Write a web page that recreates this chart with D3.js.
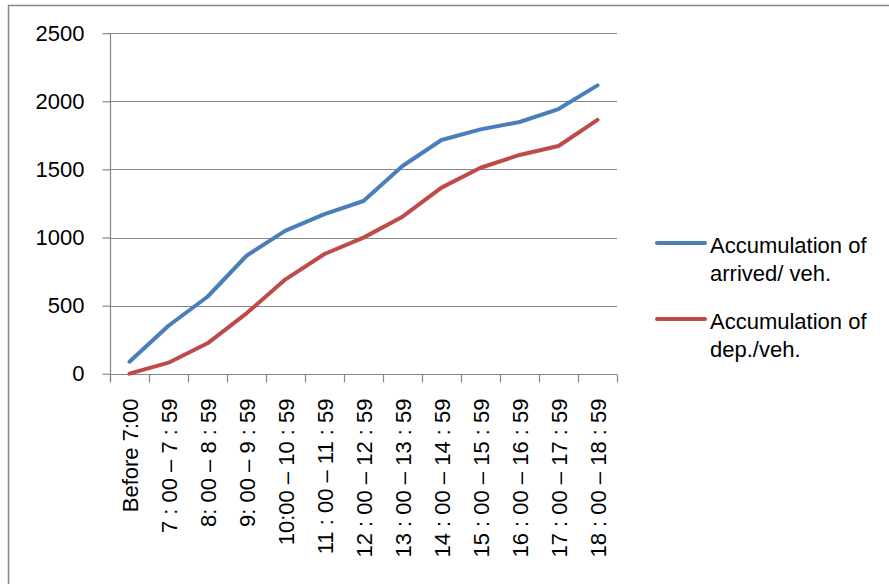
<!DOCTYPE html>
<html>
<head>
<meta charset="utf-8">
<script src="https://cdn.jsdelivr.net/npm/d3@7"></script>
<style>
  html, body { margin: 0; padding: 0; background: #fff; }
  svg { display: block; }
  text { font-family: "Liberation Sans", Arial, sans-serif; fill: #000; }
</style>
</head>
<body>
<svg id="chart" width="889" height="584"></svg>
<script>
// Time periods along the x axis
const periods = [
  "Before 7:00",
  "7 : 00 – 7 : 59",
  "8: 00 – 8 : 59",
  "9: 00 – 9 : 59",
  "10:00 – 10 : 59",
  "11 : 00 – 11 : 59",
  "12 : 00 – 12 : 59",
  "13 : 00 – 13 : 59",
  "14 : 00 – 14 : 59",
  "15 : 00 – 15 : 59",
  "16 : 00 – 16 : 59",
  "17 : 00 – 17 : 59",
  "18 : 00 – 18 : 59"
];

// Cumulative vehicle counts
const arrived = [88, 352, 565, 866, 1050, 1172, 1268, 1525, 1716, 1794, 1848, 1943, 2117];
const departed = [0, 81, 223, 443, 693, 879, 999, 1153, 1366, 1512, 1606, 1672, 1863];

const yTicks = [0, 500, 1000, 1500, 2000, 2500];

const seriesNames = ["Accumulation of\narrived/ veh.", "Accumulation of\ndep./veh."];
const seriesColors = ["#4A7EBB", "#BE4B48"];

const svg = d3.select("#chart");

// outer chart frame
svg.append("rect")
  .attr("x", 8.5).attr("y", 5.5)
  .attr("width", 900).attr("height", 600)
  .attr("fill", "none").attr("stroke", "#868686").attr("stroke-width", 1.5);

const plot = { left: 110, right: 617, top: 33.2, bottom: 373.7 };

const x = d3.scaleBand().domain(periods).range([plot.left, plot.right]);
const y = d3.scaleLinear().domain([0, 2500]).range([plot.bottom, plot.top]);

const axisColor = "#868686";

// horizontal gridlines
svg.append("g")
  .selectAll("line")
  .data(yTicks.filter(d => d > 0))
  .join("line")
  .attr("x1", plot.left).attr("x2", plot.right)
  .attr("y1", d => Math.round(y(d)) + 0.5).attr("y2", d => Math.round(y(d)) + 0.5)
  .attr("stroke", axisColor).attr("stroke-width", 1.2);

// y axis
const yAxis = svg.append("g")
  .attr("transform", `translate(${plot.left + 0.5},0)`)
  .call(d3.axisLeft(y).tickValues(yTicks).tickSize(8).tickPadding(18).tickFormat(d3.format("d")));
yAxis.select(".domain").attr("stroke", axisColor).attr("stroke-width", 1.2)
  .attr("d", `M0,${plot.top}V${plot.bottom + 8}`);
yAxis.selectAll(".tick line").attr("stroke", axisColor).attr("stroke-width", 1.2);
yAxis.selectAll(".tick text")
  .style("font-family", '"Liberation Sans", Arial, sans-serif')
  .style("font-size", "22px").attr("fill", "#000");

// x axis with ticks at category boundaries
const xAxisG = svg.append("g").attr("transform", `translate(0,${Math.round(plot.bottom) + 0.5})`);
xAxisG.append("line")
  .attr("x1", plot.left).attr("x2", plot.right)
  .attr("stroke", axisColor).attr("stroke-width", 1.2);
const boundaries = periods.map(p => x(p)).concat([x(periods[periods.length - 1]) + x.bandwidth()]);
xAxisG.selectAll("line.tk")
  .data(boundaries)
  .join("line").attr("class", "tk")
  .attr("x1", d => Math.round(d) + 0.5).attr("x2", d => Math.round(d) + 0.5)
  .attr("y1", 0).attr("y2", 8)
  .attr("stroke", axisColor).attr("stroke-width", 1.2);
xAxisG.selectAll("text")
  .data(periods)
  .join("text")
  .attr("transform", d => `translate(${x(d) + x.bandwidth() / 2 + 8},24) rotate(-90)`)
  .attr("text-anchor", "end")
  .style("font-size", "22px")
  .text(d => d);

// series lines
const line = d3.line()
  .x((d, i) => x(periods[i]) + x.bandwidth() / 2)
  .y(d => y(d));

[arrived, departed].forEach((vals, k) => {
  svg.append("path")
    .datum(vals)
    .attr("d", line)
    .attr("fill", "none")
    .attr("stroke", seriesColors[k])
    .attr("stroke-width", 4)
    .attr("stroke-linecap", "round")
    .attr("stroke-linejoin", "round");
});

// legend
const legend = svg.append("g");
const legendRows = [243, 319];
seriesNames.forEach((name, k) => {
  const g = legend.append("g").attr("transform", `translate(0,${legendRows[k]})`);
  g.append("line")
    .attr("x1", 657).attr("x2", 705)
    .attr("stroke", seriesColors[k]).attr("stroke-width", 4)
    .attr("stroke-linecap", "round");
  const t = g.append("text").attr("x", 710).attr("y", 10).style("font-size", "22px");
  name.split("\n").forEach((ln, j) => {
    t.append("tspan").attr("x", 710).attr("dy", j === 0 ? 0 : 28).text(ln);
  });
});
</script>
</body>
</html>
